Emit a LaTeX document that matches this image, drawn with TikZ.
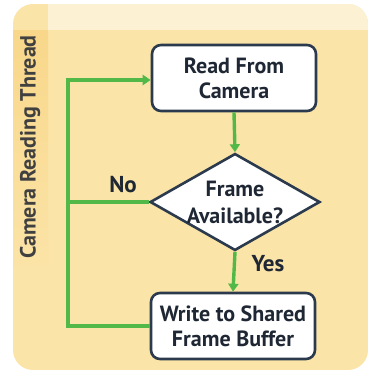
\documentclass[tikz,border=0pt]{standalone}
\usepackage{fontspec}
\setmainfont{PT Sans}
\usetikzlibrary{arrows.meta,shapes.geometric}
\definecolor{panel}{HTML}{FBE4A8}
\definecolor{panellight}{HTML}{FDF1D3}
\definecolor{panelside}{HTML}{F8D78A}
\definecolor{boxline}{HTML}{2C3A4E}
\definecolor{flowgreen}{HTML}{52B948}
\definecolor{textdark}{HTML}{1E2733}

\tikzset{
  stepbox/.style={draw=boxline, line width=2.6pt, fill=white, rounded corners=9pt,
    align=center, font=\bfseries\fontsize{22}{25}\selectfont, text=textdark,
    minimum width=164pt, minimum height=66pt, inner sep=0pt},
  decision/.style={diamond, draw=boxline, line width=2.6pt, fill=white,
    minimum width=170pt, minimum height=97pt, inner sep=0pt},
  decisiontext/.style={align=center, font=\bfseries\fontsize{22}{27}\selectfont, text=textdark},
  flow/.style={draw=flowgreen, line width=3.4pt},
  flowarrow/.style={flow, -{Triangle[length=8pt,width=10pt]}},
  answer/.style={font=\bfseries\fontsize{23}{25}\selectfont, text=textdark}
}

\begin{document}
\begin{tikzpicture}[x=1pt,y=-1pt]
\useasboundingbox (0,0) rectangle (370,375);
% Pannello di sfondo
\begin{scope}
\clip[rounded corners=20pt] (13,4) rectangle (368,370);
\fill[panel] (13,4) rectangle (368,370);
\fill[panellight] (48,4) rectangle (368,30);
\shade[top color=panelside, bottom color=panel] (13,30) rectangle (48,275);
\end{scope}
% Titolo verticale
\node[rotate=90, font=\bfseries\fontsize{22}{25}\selectfont, text=black!75] (title) at (30,147) {Camera Reading Thread};
% Blocchi
\node[stepbox] (read) at (234,78) {Read From\\Camera};
\node[decision, label={[decisiontext]center:Frame\\Available?}] (avail) at (235,202) {};
\node[stepbox] (write) at (233,326) {Write to Shared\\Frame Buffer};
% Ritorno a sinistra
\coordinate (corner) at (68,80);
% Frecce
\draw[flowarrow] (read.south) -- (avail.north);
\draw[flowarrow] (avail.south) -- (write.north);
\draw[flow] (avail.west) -- (avail.west -| corner);
\draw[flowarrow] (write.west) -| (corner) -- (read.west |- corner);
% Etichette
\node[answer] (no) at (123,185) {No};
\node[answer] (yes) at (268,264) {Yes};
\end{tikzpicture}
\end{document}
